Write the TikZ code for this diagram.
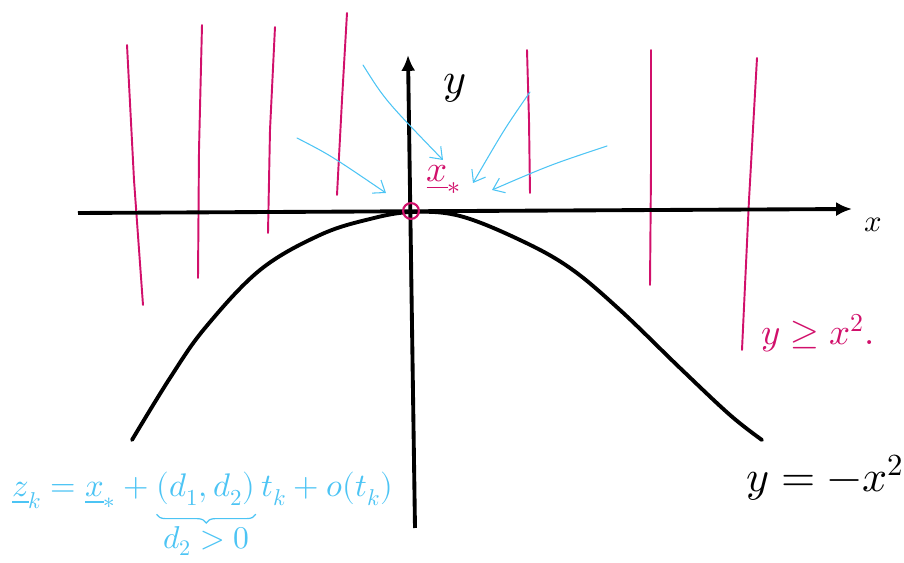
\documentclass[tikz,border=0pt]{standalone}
\usepackage{unicode-math}
\setmathfont{Latin Modern Math}
\usetikzlibrary{arrows.meta,decorations.pathreplacing}
\definecolor{mag}{HTML}{D1106B}
\definecolor{sky}{HTML}{4CC4F4}
\begin{document}
\begin{tikzpicture}[x=0.02cm,y=-0.02cm,
  axis/.style={line width=2.2pt,black,-{Latex[length=9pt,width=8pt]}},
  curve/.style={line width=2.2pt,black,line cap=round},
  wall/.style={line width=1.1pt,mag,line cap=round},
  feas/.style={line width=0.6pt,sky,line cap=round,-{Straight Barb[length=6pt,width=9pt]}},
  lbl/.style={inner sep=0pt},
  fml/.style={inner sep=0pt,text=sky,anchor=base west,font=\fontsize{18.6}{22}\selectfont}]
\useasboundingbox (0,0) rectangle (904,563);
% vertical magenta lines (region y >= x^2 hatching)
\draw[wall] (127,45) -- (134,180) -- (143,305);
\draw[wall] (202,25) -- (199,150) -- (198,278);
\draw[wall] (275,27) -- (270,130) -- (268,233);
\draw[wall] (347,13) -- (342,100) -- (337,195);
\draw[wall] (527,50) -- (529,120) -- (530,193);
\draw[wall] (651,50) -- (651,170) -- (650,285);
\draw[wall] (757,58) -- (749,200) -- (742,350);
% axes
\coordinate (xs) at (78,213);
\coordinate (xe) at (852,209);
\coordinate (ys) at (415,528);
\coordinate (ye) at (408,55);
\draw[axis] (xs) -- (xe);
\draw[axis] (ys) -- (ye);
% parabola y = -x^2
\draw[curve] plot[smooth,tension=0.6] coordinates {(132,440) (170,378) (205,328) (260,270) (320,235) (370,219) (412,212) (460,216) (520,240) (570,268) (620,310) (680,368) (730,415) (762,440)};
% minimizer
\node[draw=mag,line width=1.2pt,circle,minimum size=9pt,inner sep=0pt] (xstar) at (411,211) {};
\node[lbl,text=mag] (xlab) at (444,180) {\fontsize{21}{21}\selectfont$\underline{x}_*$};
% feasible directions
\coordinate (a1s) at (297,138); \coordinate (a1e) at (386,193);
\coordinate (a2s) at (363,65);  \coordinate (a2e) at (443,160);
\coordinate (a3s) at (530,92);  \coordinate (a3e) at (473,183);
\coordinate (a4s) at (607,146); \coordinate (a4e) at (492,190);
\draw[feas] (a1s) .. controls (330,155) .. (a1e);
\draw[feas] (a2s) .. controls (385,100) .. (a2e);
\draw[feas] (a3s) .. controls (505,128) .. (a3e);
\draw[feas] (a4s) .. controls (550,165) .. (a4e);
% labels
\node[lbl] (ylab) at (455,88) {\fontsize{25}{25}\selectfont$y$};
\node[lbl] (xaxlab) at (873,225) {\fontsize{17.5}{17.5}\selectfont$x$};
\node[lbl,text=mag] (region) at (818,333) {\fontsize{21}{21}\selectfont$y\geq x^2.$};
\node[lbl] (curvelab) at (825,478) {\fontsize{25}{25}\selectfont$y=-x^2$};
% formula
\node[fml] (f1) at (12,497) {$\underline{z}_k=\underline{x}_*+{}$};
\node[fml] (f2) at (f1.base east) {$(d_1,d_2)$};
\node[fml] (f3) at (f2.base east) {$\,t_k+o(t_k)$};
\draw[sky,line width=0.7pt,decorate,decoration={brace,mirror,amplitude=5pt}]
  ([yshift=-5pt]f2.south west) -- ([yshift=-5pt]f2.south east);
\node[lbl,text=sky,font=\fontsize{18}{18}\selectfont] (cond) at (f2.south |- 0,541) {$d_2>0$};
\end{tikzpicture}
\end{document}
